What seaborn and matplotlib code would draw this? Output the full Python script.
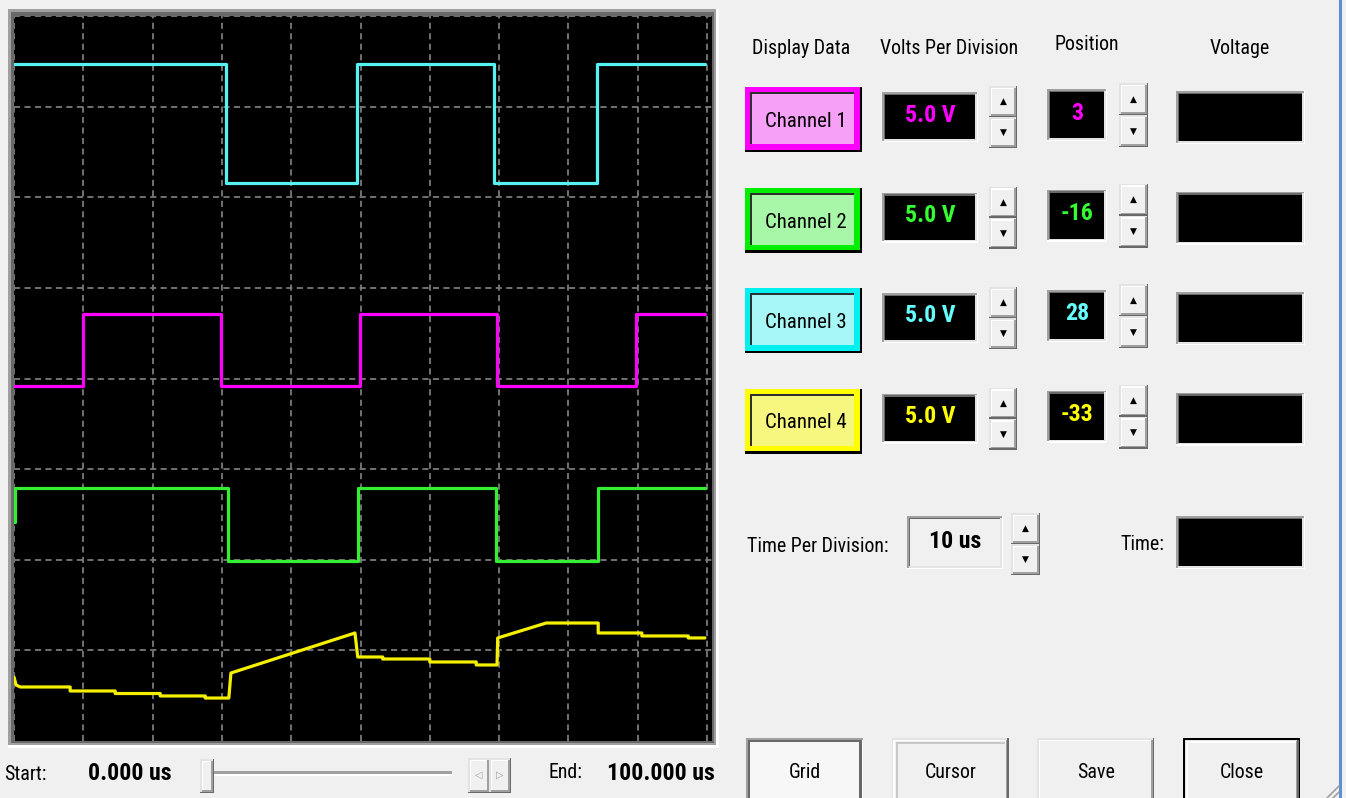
import matplotlib
matplotlib.use("Agg")
import matplotlib.pyplot as plt
from matplotlib.patches import Rectangle
from matplotlib import font_manager as fm
from matplotlib.textpath import TextPath
import seaborn as sns

# ---------------- captured traces: time in us, level in screen divisions ----------------
ch3_t = [0, 30.6, 49.5, 69.3, 84.1, 99.7]
ch3_v = [7.47, 6.16, 7.47, 6.16, 7.47, 7.47]

ch1_t = [0, 10.0, 29.9, 49.9, 69.7, 89.8, 99.7]
ch1_v = [3.92, 4.71, 3.92, 4.71, 3.92, 4.71, 4.71]

ch2_t = [0, 0.15, 30.9, 49.6, 69.6, 84.3, 99.7]
ch2_v = [2.42, 2.79, 1.99, 2.79, 1.99, 2.79, 2.79]

ch4_t = [0, 0.3, 0.9, 8.1, 8.1, 14.6, 14.6, 21.1, 21.1, 27.6, 27.6, 31.0, 31.3,
         49.2, 49.6, 53.2, 53.2, 60.0, 60.0, 66.7, 66.7, 69.7, 69.8, 76.8, 84.3,
         84.3, 90.6, 90.6, 97.3, 97.3, 99.7]
ch4_v = [0.706, 0.618, 0.596, 0.596, 0.552, 0.552, 0.524, 0.524, 0.497, 0.497, 0.474,
         0.474, 0.750, 1.192, 0.927, 0.927, 0.905, 0.905, 0.872, 0.872, 0.839, 0.839,
         1.137, 1.302, 1.302, 1.192, 1.192, 1.159, 1.159, 1.137, 1.137]

# ---------------- panel settings ----------------
headers = ["Display Data", "Volts Per Division", "Position", "Voltage"]
channel_names = ["Channel 1", "Channel 2", "Channel 3", "Channel 4"]
volts_per_div = ["5.0 V", "5.0 V", "5.0 V", "5.0 V"]
positions = ["3", "-16", "28", "-33"]
trace_colors = ["#FF00FF", "#33EE33", "#55F2F2", "#F4F000"]
frame_colors = ["#FF00FF", "#00EE00", "#00F0F0", "#FFFF00"]
text_colors = ["#FF00FF", "#33FF33", "#66FFFF", "#FFFF00"]
button_fills = ["#F7A0F7", "#A8F7A8", "#A8F7F7", "#F7F780"]
time_per_div = "10 us"
start_label, start_value = "Start:", "0.000 us"
end_label, end_value = "End:", "100.000 us"
bottom_buttons = ["Grid", "Cursor", "Save", "Close"]
divisions_x, divisions_y = 10, 8
us_per_div = 10

sns.set_theme(style="white")

# pick the narrowest installed sans face, then size it to the dialog's text metrics
installed = {f.name for f in fm.fontManager.ttflist}
face = next((n for n in ["Liberation Sans Narrow", "Roboto Condensed", "Liberation Sans"]
             if n in installed), "DejaVu Sans")
plt.rcParams["font.family"] = [face, "DejaVu Sans"]


def width_px(s, size, weight="normal"):
    tp = TextPath((0, 0), s, size=size, prop=fm.FontProperties(family=face, weight=weight))
    return tp.get_extents().width * 100 / 72


FS = 15.0 * 137 / width_px("Volts Per Division", 15.0)
FS_BOLD = 15.0 * 105 / width_px("100.000 us", 15.0, "bold")

W, H = 1346, 798
fig = plt.figure(figsize=(W / 100, H / 100), dpi=100, facecolor="#F0F0F0")

# pixel-space canvas for the window chrome
ui = fig.add_axes([0, 0, 1, 1], zorder=0)
ui.set_xlim(0, W)
ui.set_ylim(H, 0)
ui.axis("off")


def rect(x0, y0, x1, y1, c, z=1):
    ui.add_patch(Rectangle((x0, y0), x1 - x0, y1 - y0, fc=c, ec="none", lw=0, zorder=z))


def sunken(x0, y0, x1, y1, fill, t=1.5):
    rect(x0, y0, x1, y1, "#FFFFFF")
    rect(x0, y0, x1 - t, y1 - t, "#A0A0A0")
    rect(x0 + t, y0 + t, x1 - t, y1 - t, "#E3E3E3")
    rect(x0 + t, y0 + t, x1 - 2 * t, y1 - 2 * t, "#696969")
    rect(x0 + 2 * t, y0 + 2 * t, x1 - 2 * t, y1 - 2 * t, fill)


def raised(x0, y0, x1, y1, fill="#F0F0F0", t=1.5, dark="#696969"):
    rect(x0, y0, x1, y1, dark)
    rect(x0, y0, x1 - t, y1 - t, "#E3E3E3")
    rect(x0 + t, y0 + t, x1 - t, y1 - t, "#A0A0A0")
    rect(x0 + t, y0 + t, x1 - 2 * t, y1 - 2 * t, "#FFFFFF")
    rect(x0 + 2 * t, y0 + 2 * t, x1 - 2 * t, y1 - 2 * t, fill)


def spin(x0, y0, x1, y1):
    mid = (y0 + y1) / 2
    raised(x0, y0, x1, mid)
    raised(x0, mid, x1, y1)
    cx = (x0 + x1) / 2
    ui.text(cx, (y0 + mid) / 2, "▲", ha="center", va="center", fontsize=6.5,
            family="DejaVu Sans", color="black", zorder=3)
    ui.text(cx, (mid + y1) / 2, "▼", ha="center", va="center", fontsize=6.5,
            family="DejaVu Sans", color="black", zorder=3)


def label(x, y, s, ha="center", scale=1.0, weight="normal", color="black"):
    size = (FS_BOLD if weight == "bold" else FS) * scale
    ui.text(x, y, s, ha=ha, va="center", fontsize=size, fontweight=weight,
            color=color, zorder=4)


# ---------------- scope frame ----------------
rect(8, 9, 719, 748, "#FFFFFF")
rect(8, 9, 716, 745, "#A0A0A0")
rect(11, 12, 714, 743, "#696969")

# ---------------- scope display ----------------
x_max = us_per_div * divisions_x * 698 / 693
scope = fig.add_axes([14 / W, (H - 741) / H, 698 / W, 725 / H], zorder=2)
scope.set_facecolor("black")
scope.set_xlim(0, x_max)
scope.set_ylim(0, divisions_y)
for k in range(divisions_x + 1):
    scope.axvline(k * us_per_div, color="#7A7A7A", lw=1.3, ls=(0, (3.4, 2.4)), zorder=1)
for k in range(1, divisions_y + 1):
    scope.axhline(k, color="#7A7A7A", lw=1.3, ls=(0, (3.4, 2.4)), zorder=1)

for t, v, c in [(ch3_t, ch3_v, trace_colors[2]), (ch1_t, ch1_v, trace_colors[0]),
                (ch2_t, ch2_v, trace_colors[1])]:
    sns.lineplot(x=t, y=v, ax=scope, color=c, lw=2.3, drawstyle="steps-post",
                 estimator=None, sort=False, legend=False, zorder=3)
sns.lineplot(x=ch4_t, y=ch4_v, ax=scope, color=trace_colors[3], lw=2.3,
             estimator=None, sort=False, legend=False, zorder=3)
scope.set_xticks([])
scope.set_yticks([])
scope.set_xlabel("")
scope.set_ylabel("")
for sp in scope.spines.values():
    sp.set_visible(False)

# ---------------- channel panel ----------------
for x, y, s in zip([801, 949, 1087, 1240], [48, 48, 45, 48], headers):
    label(x, y, s)

for i in range(4):
    dy = 100.5 * i
    # channel button
    bx0, by0, bx1, by1 = 745, 87 + dy, 862, 152 + dy
    rect(bx0, by0, bx1, by1, "#000000")
    rect(bx0, by0, bx1 - 2.5, by1 - 2.5, frame_colors[i])
    rect(bx0 + 5, by0 + 5, bx1 - 8, by1 - 8, "#303030")
    rect(bx0 + 7, by0 + 7, bx1 - 8, by1 - 8, button_fills[i])
    label((bx0 + bx1) / 2 + 2, (by0 + by1) / 2 + 2, channel_names[i], scale=1.05)

    # volts per division
    sunken(882, 92 + dy, 978, 142 + dy, "black")
    label(930, 115 + dy, volts_per_div[i], weight="bold", color=text_colors[i])
    spin(989, 86 + dy, 1017, 148 + dy)

    # position
    sunken(1047, 89 + dy, 1107, 141 + dy, "black")
    label(1077, 113 + dy, positions[i], weight="bold", color=text_colors[i])
    spin(1119, 83 + dy, 1148, 147 + dy)

    # voltage readout
    sunken(1176, 91 + dy, 1305, 144 + dy, "black")

# ---------------- time base row ----------------
label(747, 546, "Time Per Division:", ha="left")
sunken(907, 516, 1003, 569, "#F0F0F0")
label(955, 541, time_per_div, weight="bold")
spin(1011, 513, 1040, 575)
label(1164, 544, "Time:", ha="right")
sunken(1176, 516, 1305, 569, "black")

# ---------------- action buttons ----------------
for k, name in enumerate(bottom_buttons):
    x0 = 746 + 145.7 * k
    x1 = x0 + 117
    if name == "Grid":
        rect(x0, 738, x1, 810, "#A0A0A0")
        rect(x0 + 1.5, 739.5, x1, 810, "#FFFFFF")
        rect(x0 + 1.5, 739.5, x1 - 1.5, 810, "#696969")
        rect(x0 + 4, 742, x1 - 4, 810, "#F7F7F7")
    elif name == "Close":
        rect(x0, 738, x1, 810, "#000000")
        rect(x0 + 1.5, 739.5, x1 - 1.5, 810, "#F0F0F0")
        raised(x0 + 1.5, 739.5, x1 - 1.5, 820)
    elif name == "Cursor":
        raised(x0, 738, x1, 820)
        rect(x0 + 4, 742, x1 - 4, 744, "#C8C8C8")
        rect(x0 + 4, 742, x0 + 6, 820, "#C8C8C8")
    else:
        raised(x0, 738, x1, 820)
    label((x0 + x1) / 2, 772, name)

# ---------------- start / end bar ----------------
label(4, 774, start_label, ha="left")
label(88, 773, start_value, ha="left", weight="bold")
rect(205, 771, 452, 773.5, "#A0A0A0")
rect(205, 773.5, 452, 775.5, "#FFFFFF")
raised(200, 759, 214, 793)
raised(468, 758, 490, 793)
raised(489, 758, 511, 793)
ui.text(479, 775, "◁", ha="center", va="center", fontsize=7, family="DejaVu Sans",
        color="#A0A0A0", zorder=4)
ui.text(500, 775, "▷", ha="center", va="center", fontsize=7, family="DejaVu Sans",
        color="#A0A0A0", zorder=4)
label(548, 773, end_label, ha="left")
label(607, 773, end_value, ha="left", weight="bold")

# ---------------- window edge ----------------
rect(1339, 0, 1342, H, "#5B8FD3")
for off in (6, 12):
    ui.plot([1339 - off, 1339], [H, H - off], color="#A0A0A0", lw=1.2, zorder=2)

fig.savefig("out.png", dpi=100, facecolor=fig.get_facecolor())
